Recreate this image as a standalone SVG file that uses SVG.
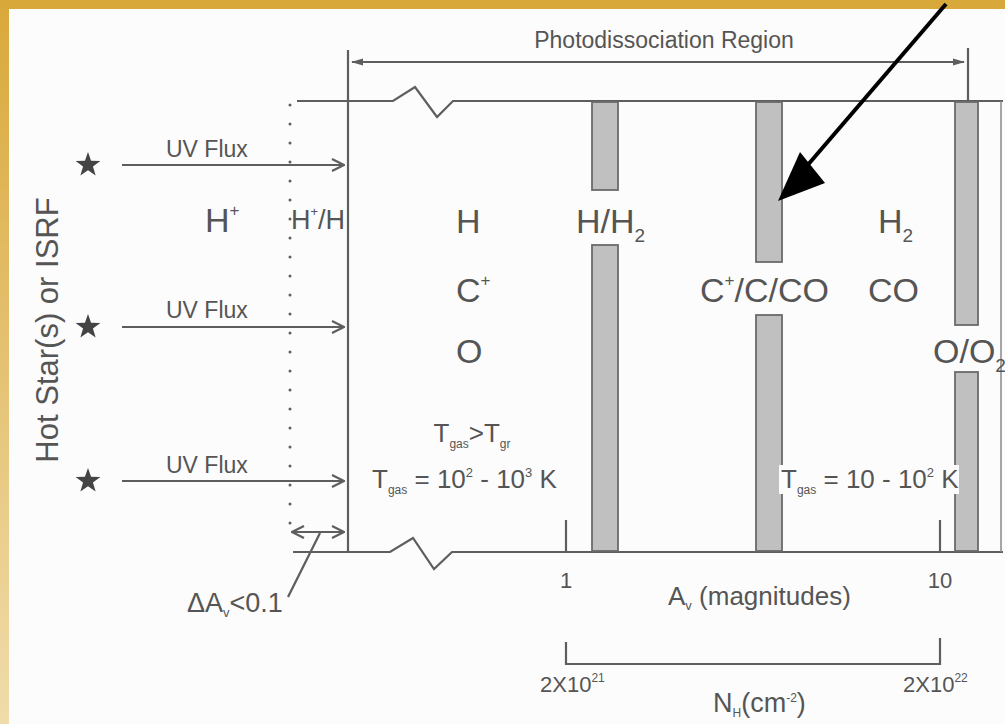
<svg xmlns="http://www.w3.org/2000/svg" width="1005" height="724" viewBox="0 0 1005 724">
<defs>
<linearGradient id="goldL" x1="0" y1="0" x2="0" y2="1">
<stop offset="0" stop-color="#d9a83a"/>
<stop offset="1" stop-color="#f0dcab"/>
</linearGradient>
<marker id="chev" viewBox="0 0 14 14" refX="13" refY="7" markerWidth="14" markerHeight="14" markerUnits="userSpaceOnUse" orient="auto-start-reverse">
<path d="M1,1 L13,7 L1,13" fill="none" stroke="#5e5e5e" stroke-width="2.2"/>
</marker>
<marker id="tri" viewBox="0 0 12 8" refX="11" refY="4" markerWidth="12" markerHeight="8" markerUnits="userSpaceOnUse" orient="auto-start-reverse">
<path d="M0,0.5 L12,4 L0,7.5 Z" fill="#5e5e5e"/>
</marker>
<polygon id="star" points="0,-13 3.06,-4.21 12.36,-4.02 4.95,1.61 7.64,10.52 0,5.2 -7.64,10.52 -4.95,1.61 -12.36,-4.02 -3.06,-4.21" fill="#444"/>
<style>
text{font-family:"Liberation Sans",Arial,sans-serif;fill:#555}
.big{font-size:34px}
.mid{font-size:27px}
.uv{font-size:23px}
.tk{font-size:22px}
.tt{font-size:26px}
.ln{stroke:#5e5e5e;stroke-width:2.2;fill:none}
.bar{fill:#c0c0c0;stroke:#6a6a6a;stroke-width:1.8}
</style>
</defs>
<rect width="1005" height="724" fill="#fcfcfc"/>
<rect x="0" y="0" width="9" height="724" fill="url(#goldL)"/>

<g id="frame">
<path class="ln" d="M297,101 L393,101 L415,87 L437,117 L453,101 L1003,101"/>
<path class="ln" d="M293,552 L390,552 L413,538 L434,569 L452,552 L1003,552"/>
<line class="ln" x1="348" y1="50" x2="348" y2="552"/>
<line class="ln" x1="968" y1="48" x2="968" y2="101"/>
<line x1="1001" y1="101" x2="1001" y2="552" stroke="#8a8a8a" stroke-width="1.5"/>
</g>

<g id="bars">
<rect class="bar" x="592" y="102" width="26" height="88"/>
<rect class="bar" x="592" y="245" width="26" height="306"/>
<rect class="bar" x="756" y="102" width="26" height="160"/>
<rect class="bar" x="756" y="315" width="26" height="236"/>
<rect class="bar" x="955" y="102" width="23" height="223"/>
<rect class="bar" x="955" y="372" width="23" height="179"/>
</g>

<g id="connectors">
<line class="ln" x1="352" y1="62" x2="964" y2="62" marker-start="url(#tri)" marker-end="url(#tri)"/>
<line class="ln" x1="122" y1="165" x2="344" y2="165" marker-end="url(#chev)"/>
<line class="ln" x1="122" y1="327" x2="344" y2="327" marker-end="url(#chev)"/>
<line class="ln" x1="122" y1="481" x2="344" y2="481" marker-end="url(#chev)"/>
<line class="ln" x1="292" y1="532" x2="344" y2="532" marker-start="url(#chev)" marker-end="url(#chev)"/>
<line class="ln" x1="288" y1="597" x2="320" y2="533"/>
<line x1="290" y1="105" x2="290" y2="535" stroke="#5e5e5e" stroke-width="3" stroke-linecap="round" stroke-dasharray="0 19"/>
<line class="ln" x1="566" y1="520" x2="566" y2="552"/>
<line class="ln" x1="940" y1="520" x2="940" y2="552"/>
<path class="ln" d="M566,642 L566,664 L940,664 L940,638"/>
</g>

<rect x="0" y="0" width="1005" height="9" fill="#d8a83a"/>
<g id="pointer">
<line x1="946" y1="4" x2="800" y2="174" stroke="#000" stroke-width="4"/>
<polygon points="778,201 800,152 825,183" fill="#000"/>
</g>

<g id="sources">
<use href="#star" x="88" y="165"/>
<use href="#star" x="88" y="327"/>
<use href="#star" x="88" y="481"/>
<text transform="translate(58,330) rotate(-90)" text-anchor="middle" style="font-size:31px">Hot Star(s) or ISRF</text>
<text class="uv" x="166" y="157">UV Flux</text>
<text class="uv" x="166" y="318">UV Flux</text>
<text class="uv" x="166" y="473">UV Flux</text>
</g>

<g id="title"><text x="664" y="48" text-anchor="middle" style="font-size:23px">Photodissociation Region</text></g>

<g id="zone-ionized">
<text class="big" x="205" y="232">H<tspan font-size="17" dy="-16">+</tspan></text>
</g>
<g id="zone-front">
<text class="mid" x="291" y="229">H<tspan font-size="13" dy="-13">+</tspan><tspan dy="13">/H</tspan></text>
</g>
<g id="zone-atomic">
<text class="big" x="456" y="233">H</text>
<text class="big" x="456" y="302">C<tspan font-size="17" dy="-16">+</tspan></text>
<text class="big" x="456" y="363">O</text>
<text class="tt" x="472" y="442" text-anchor="middle">T<tspan font-size="12" dy="6">gas</tspan><tspan dy="-6">&gt;T</tspan><tspan font-size="12" dy="6">gr</tspan></text>
<text class="tt" x="372" y="488">T<tspan font-size="12" dy="6">gas</tspan><tspan dy="-6"> = 10</tspan><tspan font-size="13" dy="-11">2</tspan><tspan dy="11"> - 10</tspan><tspan font-size="13" dy="-11">3</tspan><tspan dy="11"> K</tspan></text>
</g>
<g id="transition-h">
<text class="big" x="576" y="233">H/H<tspan font-size="19" dy="9">2</tspan></text>
</g>
<g id="transition-c">
<text class="big" x="700" y="302">C<tspan font-size="17" dy="-16">+</tspan><tspan dy="16">/C/CO</tspan></text>
</g>
<g id="zone-molecular">
<text class="big" x="878" y="233">H<tspan font-size="19" dy="9">2</tspan></text>
<text class="big" x="868" y="302">CO</text>
<rect x="779" y="465" width="180" height="29" fill="#fcfcfc"/>
<text class="tt" x="781" y="488">T<tspan font-size="12" dy="6">gas</tspan><tspan dy="-6"> = 10 - 10</tspan><tspan font-size="13" dy="-11">2</tspan><tspan dy="11"> K</tspan></text>
</g>
<g id="transition-o">
<text class="big" x="933" y="363">O/O<tspan font-size="19" dy="9">2</tspan></text>
</g>

<g id="axes">
<text class="tk" x="566" y="588" text-anchor="middle">1</text>
<text class="tk" x="940" y="588" text-anchor="middle">10</text>
<text style="font-size:26px" x="668" y="605">A<tspan font-size="13" dy="5">v</tspan><tspan dy="-5"> (magnitudes)</tspan></text>
<text class="tk" x="540" y="692">2X10<tspan font-size="12" dy="-10">21</tspan></text>
<text class="tk" x="903" y="692">2X10<tspan font-size="12" dy="-10">22</tspan></text>
<text style="font-size:27px" x="713" y="712">N<tspan font-size="12" dy="5">H</tspan><tspan dy="-5">(cm</tspan><tspan font-size="12" dy="-10">-2</tspan><tspan dy="10">)</tspan></text>
<text style="font-size:27px" x="187" y="612">ΔA<tspan font-size="13" dy="5">v</tspan><tspan dy="-5">&lt;0.1</tspan></text>
</g>
</svg>
